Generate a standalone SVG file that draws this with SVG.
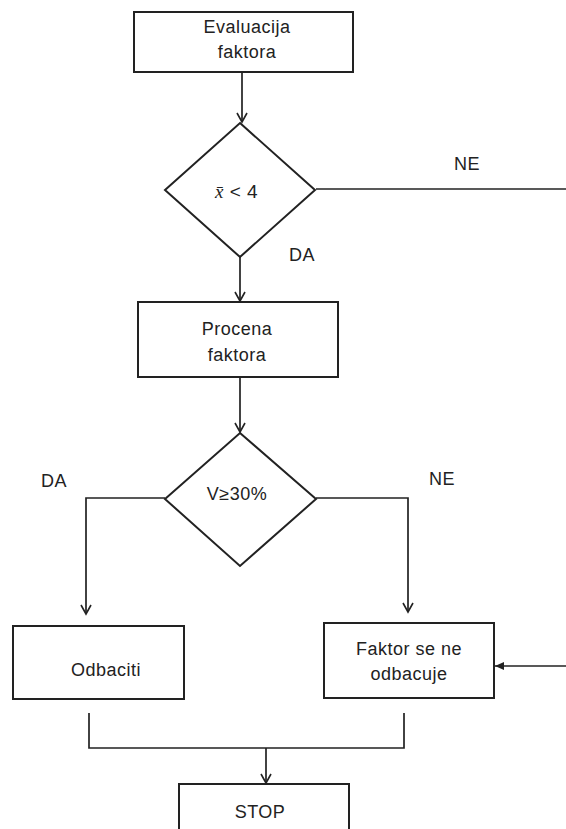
<svg xmlns="http://www.w3.org/2000/svg" width="566" height="829" viewBox="0 0 566 829">
<style>
.box{fill:#fff;stroke:#222;stroke-width:2}
.lbl{font-family:"Liberation Sans",Arial,sans-serif;font-size:18px;letter-spacing:0.5px;fill:#222;text-anchor:middle}
.c{fill:none;stroke:#222;stroke-width:1.7}
</style>
<defs>
<marker id="open" markerWidth="12" markerHeight="12" refX="10" refY="6" orient="auto" markerUnits="userSpaceOnUse">
<path d="M1,1 L10,6 L1,11" fill="none" stroke="#222" stroke-width="1.6"/>
</marker>
<marker id="fill" markerWidth="10" markerHeight="10" refX="9" refY="5" orient="auto" markerUnits="userSpaceOnUse">
<path d="M0,1 L9,5 L0,9 Z" fill="#222"/>
</marker>
</defs>
<rect width="566" height="829" fill="#fff"/>
<g id="n1"><rect class="box" x="134" y="12" width="219" height="60"/>
<text class="lbl" x="247" y="33">Evaluacija</text><text class="lbl" x="247" y="58">faktora</text></g>
<g id="d1"><polygon class="box" points="240,123 315,190 240,257 165,190"/>
<text x="215" y="198" font-family="Liberation Sans,Arial,sans-serif" font-size="19" letter-spacing="0.5" fill="#222"><tspan font-family="Liberation Serif,serif" font-style="italic">x̄</tspan> &lt; 4</text></g>
<g id="n2"><rect class="box" x="138" y="302" width="200" height="75"/>
<text class="lbl" x="237" y="335">Procena</text><text class="lbl" x="237" y="361">faktora</text></g>
<g id="d2"><polygon class="box" points="240,433 316,499 240,566 165,499"/>
<text class="lbl" x="237" y="500">V≥30%</text></g>
<g id="n3"><rect class="box" x="13" y="626" width="171" height="73"/>
<text class="lbl" x="106" y="676">Odbaciti</text></g>
<g id="n4"><rect class="box" x="324" y="623" width="170" height="75"/>
<text class="lbl" x="409" y="655">Faktor se ne</text><text class="lbl" x="409" y="680">odbacuje</text></g>
<g id="n5"><rect class="box" x="179" y="784" width="170" height="60"/>
<text class="lbl" x="260" y="818">STOP</text></g>
<g id="labels">
<text class="lbl" x="467" y="170">NE</text>
<text class="lbl" x="302" y="261">DA</text>
<text class="lbl" x="54" y="487">DA</text>
<text class="lbl" x="442" y="485">NE</text>
</g>
<g id="connectors">
<path class="c" d="M242,72 V122" marker-end="url(#open)"/>
<path class="c" d="M316,189 H566"/>
<path class="c" d="M240,257 V301" marker-end="url(#open)"/>
<path class="c" d="M240,377 V432" marker-end="url(#open)"/>
<path class="c" d="M165,498 H86 V614" marker-end="url(#open)"/>
<path class="c" d="M316,498 H408 V612" marker-end="url(#open)"/>
<path class="c" d="M566,666 H495" marker-end="url(#fill)"/>
<path class="c" d="M89,713 V748 H404 V713"/>
<path class="c" d="M266,748 V783" marker-end="url(#open)"/>
</g>
</svg>
